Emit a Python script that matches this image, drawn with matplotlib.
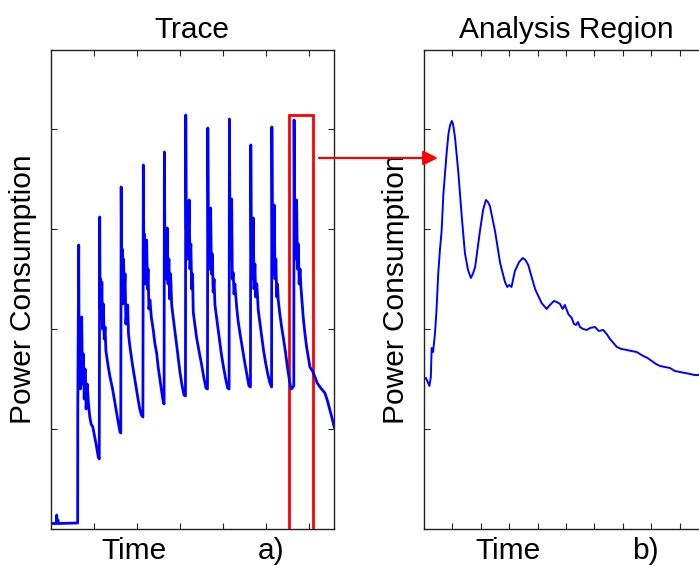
import matplotlib
matplotlib.use('Agg')
import matplotlib.pyplot as plt
from matplotlib.patches import Rectangle, ConnectionPatch

plt.rcParams['font.family'] = ['Liberation Sans', 'DejaVu Sans']

# full trace (time units: 10 per tick, power units: 1 per tick)
trace_t = [0.00, 1.30, 1.40, 1.50, 1.70, 1.80,
           6.28, 6.30, 6.52, 6.62, 6.75, 6.90, 7.05, 7.21, 7.40, 7.60, 7.80, 8.00, 8.25, 8.50, 8.80, 9.10, 9.40, 9.80, 10.20, 10.60, 11.07, 11.30,
           11.40, 11.50, 11.62, 11.78, 11.90, 12.05, 12.25, 12.45, 12.65, 12.85, 13.05, 13.40, 13.80, 14.40, 14.95, 15.50, 16.12, 16.30,
           16.40, 16.52, 16.65, 16.78, 16.95, 17.12, 17.30, 17.50, 17.70, 17.91, 18.10, 18.44, 19.00, 19.60, 20.20, 20.77, 21.12, 21.45,
           21.55, 21.68, 21.80, 21.95, 22.10, 22.33, 22.50, 22.65, 22.85, 23.09, 23.40, 23.86, 24.25, 24.65, 25.00, 25.42, 25.80, 26.19, 26.38,
           26.45, 26.58, 26.72, 26.85, 27.12, 27.30, 27.50, 27.70, 27.90, 28.15, 28.51, 28.90, 29.30, 29.70, 30.07, 30.50, 31.00, 31.35,
           31.42, 31.55, 31.70, 31.85, 32.05, 32.23, 32.40, 32.60, 32.80, 33.00, 33.16, 33.55, 33.95, 34.50, 35.12, 35.60, 36.12, 36.47,
           36.55, 36.68, 36.82, 36.95, 37.21, 37.40, 37.60, 37.80, 38.00, 38.21, 38.70, 39.21, 39.70, 40.20, 40.70, 41.16, 41.50,
           41.58, 41.70, 41.85, 41.93, 42.10, 42.25, 42.47, 42.65, 42.85, 43.26, 43.60, 44.02, 44.40, 44.79, 45.20, 45.58, 46.12, 46.47,
           46.55, 46.68, 46.82, 46.95, 47.12, 47.30, 47.50, 47.70, 47.95, 48.28, 48.70, 49.07, 49.50, 50.00, 50.50, 51.00, 51.38,
           51.45, 51.58, 51.72, 51.85, 52.00, 52.18, 52.38, 52.58, 52.75, 52.93, 53.30, 53.72, 54.20, 54.65, 55.00, 55.42, 55.81, 56.00, 56.55,
           56.62, 56.75, 56.90, 57.05, 57.21, 57.40, 57.60, 57.80, 58.00, 58.21, 58.74, 59.10, 59.53, 60.30, 60.90, 61.47, 62.00, 62.63, 63.20, 63.79, 64.40, 64.95, 65.50, 65.95]
trace_p = [0.055, 0.055, 0.14, 0.06, 0.09, 0.055,
           0.06, 1.14, 2.84, 1.60, 2.00, 1.40, 1.75, 2.12, 1.45, 1.75, 1.30, 1.60, 1.20, 1.45, 1.25, 1.12, 1.05, 1.02, 0.93, 0.84, 0.72, 0.70,
           3.12, 2.20, 2.50, 2.10, 2.47, 2.00, 2.25, 1.90, 2.02, 1.78, 1.72, 1.62, 1.52, 1.40, 1.26, 1.12, 0.97, 0.96,
           3.42, 2.55, 2.80, 2.25, 2.70, 2.35, 2.55, 2.05, 2.20, 2.24, 1.95, 1.82, 1.65, 1.49, 1.33, 1.19, 1.14, 1.12,
           3.64, 2.70, 2.95, 2.45, 2.75, 2.89, 2.40, 2.60, 2.20, 2.29, 2.12, 1.99, 1.85, 1.76, 1.62, 1.49, 1.38, 1.27, 1.25,
           3.77, 2.75, 3.00, 2.50, 3.01, 2.45, 2.70, 2.30, 2.55, 2.24, 2.11, 1.98, 1.84, 1.70, 1.57, 1.45, 1.34, 1.33,
           4.14, 3.00, 3.25, 2.70, 2.95, 3.29, 2.60, 2.85, 2.40, 2.55, 2.17, 2.04, 1.91, 1.78, 1.64, 1.52, 1.41, 1.40,
           4.01, 2.90, 3.10, 2.60, 3.21, 2.55, 2.75, 2.37, 2.50, 2.24, 2.08, 1.91, 1.75, 1.62, 1.50, 1.41, 1.40,
           4.10, 3.00, 3.25, 2.70, 3.30, 2.50, 2.56, 2.35, 2.45, 2.22, 2.08, 1.96, 1.86, 1.76, 1.65, 1.56, 1.43, 1.42,
           3.84, 2.80, 3.00, 2.50, 3.11, 2.40, 2.65, 2.32, 2.45, 2.19, 2.05, 1.92, 1.79, 1.66, 1.55, 1.46, 1.42,
           4.02, 2.85, 3.05, 2.55, 3.24, 2.50, 2.70, 2.32, 2.45, 2.29, 2.15, 2.02, 1.89, 1.76, 1.64, 1.52, 1.42, 1.40, 1.43,
           4.09, 2.95, 3.20, 2.70, 3.29, 2.60, 2.85, 2.45, 2.60, 2.42, 2.12, 1.97, 1.82, 1.62, 1.58, 1.52, 1.46, 1.42, 1.39, 1.36, 1.28, 1.19, 1.10, 1.02]

# zoomed-in region (last spike)
region_t = [0.00, 0.07, 0.13, 0.19, 0.24, 0.27, 0.32, 0.39, 0.44, 0.50, 0.56, 0.62, 0.68, 0.74, 0.80, 0.86, 0.92, 0.98, 1.02, 1.09,
            1.21, 1.33, 1.44, 1.55, 1.65, 1.72, 1.80, 1.97, 2.08, 2.18, 2.25, 2.32, 2.50, 2.68, 2.85, 2.93, 3.00, 3.08, 3.20, 3.35,
            3.48, 3.57, 3.67, 3.91, 4.14, 4.32, 4.40, 4.47, 4.57, 4.67, 4.79, 4.88, 4.96, 5.08, 5.20, 5.28, 5.35, 5.42, 5.49, 5.60,
            5.73, 5.85, 6.02, 6.15, 6.31, 6.43, 6.55, 6.67, 6.79, 6.95, 7.14, 7.30, 7.49, 7.60, 7.72, 7.87, 8.02, 8.17, 8.31, 8.48,
            8.66, 8.83, 9.01, 9.19, 9.37, 9.52, 9.65, 9.82, 10.0]
region_p = [1.50, 1.51, 1.47, 1.43, 1.52, 1.81, 1.77, 1.97, 2.19, 2.55, 2.79, 2.98, 3.34, 3.56, 3.77, 3.95, 4.04, 4.08, 4.05, 3.92,
            3.56, 3.12, 2.76, 2.59, 2.51, 2.55, 2.62, 2.98, 3.19, 3.29, 3.27, 3.23, 2.98, 2.66, 2.47, 2.42, 2.44, 2.42, 2.58, 2.67,
            2.71, 2.69, 2.64, 2.40, 2.26, 2.20, 2.23, 2.25, 2.28, 2.27, 2.25, 2.20, 2.24, 2.15, 2.11, 2.05, 2.04, 2.07, 2.02, 2.00,
            1.99, 2.01, 2.02, 1.98, 1.99, 1.95, 1.90, 1.86, 1.82, 1.80, 1.79, 1.78, 1.77, 1.75, 1.73, 1.71, 1.68, 1.65, 1.63, 1.62,
            1.61, 1.58, 1.57, 1.56, 1.55, 1.54, 1.54, 1.53, 1.53]

box_t = (55.49, 61.0)   # analysis window on the trace
box_top = 4.14

fig = plt.figure(figsize=(6.99, 5.66), dpi=100)
ax1 = fig.add_axes([0.0725, 0.0654, 0.4053, 0.8463])
ax2 = fig.add_axes([0.6066, 0.0654, 0.4063, 0.8463])

ax1.plot(trace_t, trace_p, color='#0000ff', lw=2.0)
ax2.plot(region_t, region_p, color='#0000ff', lw=1.4)

ax1.set_xlim(0, 65.9)
ax1.set_ylim(0, 4.79)
ax1.set_xticks(range(10, 61, 10))
ax2.set_xlim(0, 10)
ax2.set_ylim(0, 4.79)
ax2.set_xticks(range(1, 10))

for ax, title, tag in [(ax1, 'Trace', 'a)'), (ax2, 'Analysis Region', 'b)')]:
    ax.set_yticks([1, 2, 3, 4])
    ax.tick_params(direction='in', length=4, width=0.8, color='#222222',
                   top=True, right=True, labelbottom=False, labelleft=False)
    for s in ax.spines.values():
        s.set_color('#222222')
        s.set_linewidth(1.0)
    ax.set_title(title, fontsize=21.5, pad=8.5)
    ax.set_ylabel('Power Consumption', fontsize=21.5)
    ax.yaxis.set_label_coords(-0.048, 0.5)
    ax.text(0.294, -0.062, 'Time', transform=ax.transAxes, fontsize=21.5,
            ha='center', va='baseline')
    ax.text(0.778, -0.062, tag, transform=ax.transAxes, fontsize=21.5,
            ha='center', va='baseline')

# red box marking the analysis window
ax1.add_patch(Rectangle((box_t[0], -0.2), box_t[1] - box_t[0], box_top + 0.2,
                        fill=False, edgecolor='#ff0000', lw=2.0, clip_on=True))

# arrow from the trace to the zoomed view
arrow = ConnectionPatch(xyA=(62.4, 3.71), coordsA=ax1.transData,
                        xyB=(0.49, 3.71), coordsB=ax2.transData,
                        arrowstyle='-|>', mutation_scale=22, color='#ff0000', lw=1.6)
fig.add_artist(arrow)

fig.savefig('out.png', dpi=100)
